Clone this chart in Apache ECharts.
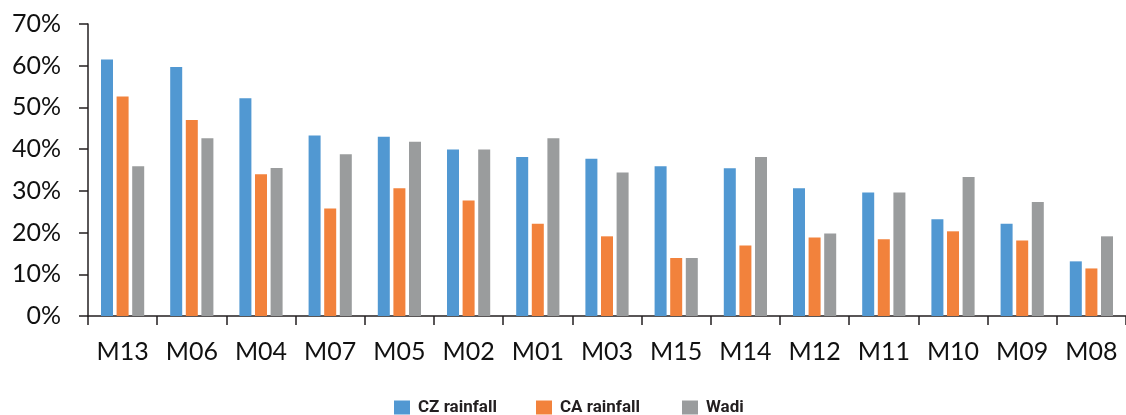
<!DOCTYPE html>
<html>
<head>
<meta charset="utf-8">
<script src="https://cdn.jsdelivr.net/npm/echarts@6/dist/echarts.min.js"></script>
<style>
  html, body { margin: 0; padding: 0; background: #ffffff; }
  #chart { width: 1126px; height: 415px; }
</style>
</head>
<body>
<div id="chart"></div>
<script>
// Sites, ordered by CZ rainfall share
const sites = ['M13','M06','M04','M07','M05','M02','M01','M03','M15','M14','M12','M11','M10','M09','M08'];

// Percentages per site
const czRainfall = [61.5, 59.7, 52.2, 43.3, 43.0, 39.9, 38.1, 37.7, 35.9, 35.4, 30.6, 29.6, 23.2, 22.1, 13.1];
const caRainfall = [52.6, 47.0, 34.0, 25.8, 30.6, 27.7, 22.1, 19.1, 13.9, 16.9, 18.8, 18.4, 20.3, 18.1, 11.4];
const wadi       = [35.9, 42.6, 35.5, 38.8, 41.8, 39.9, 42.6, 34.4, 13.9, 38.1, 19.8, 29.6, 33.3, 27.3, 19.1];

const seriesNames = ['CZ rainfall', 'CA rainfall', 'Wadi'];
const colors = ['#5198d2', '#f2823c', '#9a9c9d'];

const chart = echarts.init(document.getElementById('chart'), null, { renderer: 'canvas' });

const axisFont = 'Lato, "Noto Sans", sans-serif';

// one legend block per series so each entry sits at its own spot
const legendLefts = [394, 536, 682];
const legends = seriesNames.map((name, i) => ({
  data: [name],
  left: legendLefts[i],
  top: 399,
  itemWidth: 16,
  itemHeight: 14,
  icon: 'rect',
  padding: 0,
  textStyle: {
    fontFamily: 'Roboto, "Liberation Sans", sans-serif',
    fontWeight: 'bold',
    fontSize: 17,
    color: '#231f20',
    padding: [0, 0, 0, 3]
  }
}));

chart.setOption({
  animation: false,
  color: colors,
  grid: { left: 88, right: -7, top: 24, bottom: 99 },
  legend: legends,
  xAxis: {
    type: 'category',
    data: sites,
    axisLine: { lineStyle: { color: '#231f20', width: 1.5 } },
    axisTick: { show: true, length: 9, lineStyle: { color: '#231f20', width: 1.5 } },
    axisLabel: { fontFamily: axisFont, fontSize: 25, color: '#111', margin: 23 }
  },
  yAxis: {
    type: 'value',
    min: 0,
    max: 70,
    interval: 10,
    axisLine: { show: true, lineStyle: { color: '#231f20', width: 1.5 } },
    axisTick: { show: true, length: 9, lineStyle: { color: '#231f20', width: 1.5 } },
    splitLine: { show: false },
    axisLabel: { fontFamily: axisFont, fontSize: 25, color: '#111', margin: 27, formatter: '{value}%' }
  },
  series: [
    { name: seriesNames[0], type: 'bar', data: czRainfall, barWidth: 12, barGap: '30%' },
    { name: seriesNames[1], type: 'bar', data: caRainfall, barWidth: 12, barGap: '30%' },
    { name: seriesNames[2], type: 'bar', data: wadi, barWidth: 12, barGap: '30%' }
  ]
});
</script>
</body>
</html>
